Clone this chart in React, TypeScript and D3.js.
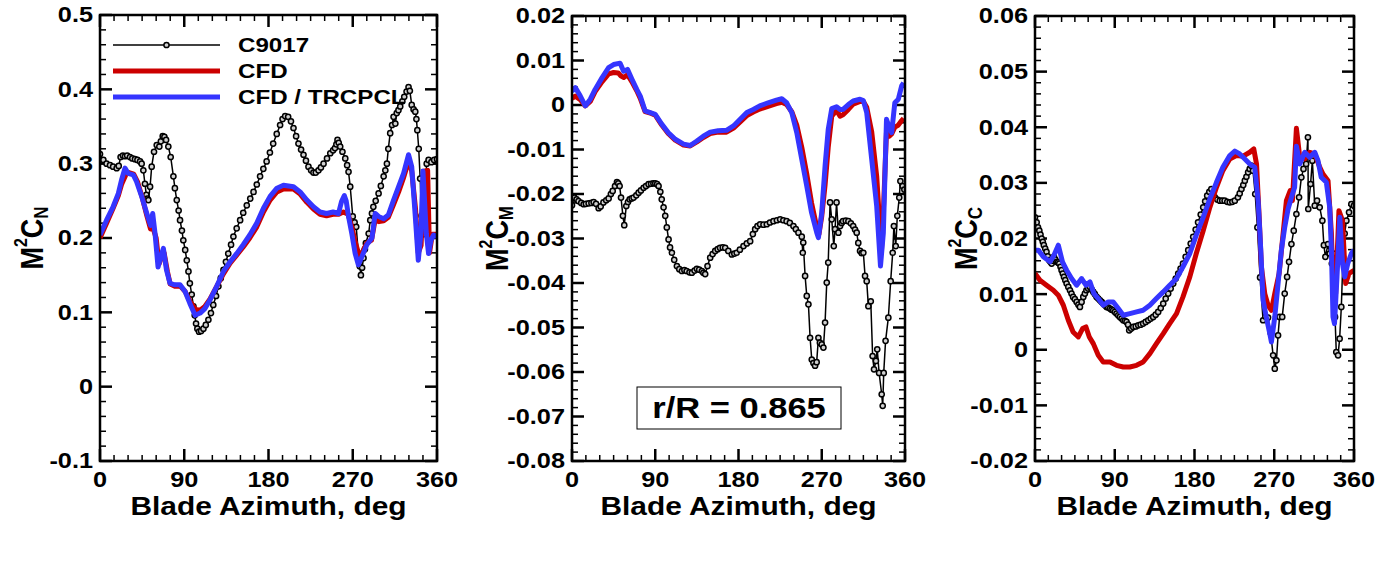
import * as d3 from "d3";

type Pt = [number, number];

// azimuth ticks shared by all three panels
const azimuthTickLabels = ["0", "90", "180", "270", "360"];
const seriesNames = ["C9017", "CFD", "CFD / TRCPCL"];
const noteLabel = "r/R = 0.865";

// ---- normal force, M^2 CN ----
const cnTickLabels = ["-0.1", "0", "0.1", "0.2", "0.3", "0.4", "0.5"];

const cnC9017: Pt[] = [
  [0, 0.313], [3.6, 0.305], [7, 0.3], [10.7, 0.298], [14, 0.296], [17.8, 0.294], [20, 0.297],
  [22, 0.309], [24.5, 0.311], [26.7, 0.31], [29, 0.311], [32, 0.309], [34.5, 0.307], [37.4, 0.306],
  [40, 0.305], [42.8, 0.303], [44.5, 0.3], [46.3, 0.291], [48, 0.273], [49.5, 0.258], [50.6, 0.253],
  [51.7, 0.251], [53.5, 0.269], [55.2, 0.296], [57.7, 0.316], [60.6, 0.325], [63.4, 0.323],
  [65, 0.33], [67, 0.337], [68.8, 0.336], [70.6, 0.332], [73, 0.323], [75.5, 0.309], [78.4, 0.283],
  [80, 0.267], [82, 0.251], [84, 0.237], [85.5, 0.224], [87.5, 0.21], [89, 0.197], [91, 0.184],
  [92.7, 0.17], [94.5, 0.155], [96, 0.139], [98, 0.124], [99.8, 0.108], [101.2, 0.096],
  [102.6, 0.085], [104, 0.078], [105.8, 0.074], [108, 0.075], [110.5, 0.078], [113, 0.083],
  [115.8, 0.09], [118.5, 0.099], [121, 0.11], [124, 0.122], [126.5, 0.135], [129, 0.146],
  [131.9, 0.157], [134.5, 0.168], [137, 0.179], [140, 0.191], [142.5, 0.202], [146, 0.213],
  [149.7, 0.224], [153, 0.234], [156.8, 0.244], [160.5, 0.253], [164, 0.262], [167.5, 0.272],
  [171, 0.283], [174.5, 0.293], [178, 0.303], [181.5, 0.315], [185, 0.327], [188.8, 0.34],
  [192.4, 0.352], [195, 0.36], [197.8, 0.364], [201, 0.363], [204, 0.357], [206.7, 0.348],
  [209.5, 0.337], [212, 0.327], [214.8, 0.319], [217.4, 0.312], [220, 0.304], [222.7, 0.296],
  [225.5, 0.291], [228, 0.288], [230.5, 0.288], [233.4, 0.291], [236, 0.295], [238.8, 0.3],
  [242.5, 0.307], [246, 0.314], [249, 0.318], [251, 0.321], [252.5, 0.326], [253.7, 0.332],
  [255, 0.328], [256.6, 0.323], [259, 0.316], [262, 0.307], [264, 0.298], [265.5, 0.289],
  [267.3, 0.269], [270, 0.229], [272, 0.221], [273.7, 0.215], [276, 0.179], [277.5, 0.162],
  [278.7, 0.15], [280, 0.16], [281.5, 0.173], [283, 0.185], [284, 0.193], [287, 0.206],
  [288.7, 0.224], [290.5, 0.233], [292, 0.242], [294.5, 0.25], [297.6, 0.26], [300, 0.27],
  [303, 0.283], [304.8, 0.291], [306.5, 0.3], [308, 0.32], [310, 0.341], [312, 0.352],
  [313.6, 0.363], [315.5, 0.354], [317, 0.368], [318.8, 0.372], [320.7, 0.377], [323, 0.384],
  [325, 0.39], [327.5, 0.397], [329.6, 0.403], [331, 0.398], [333, 0.379], [335, 0.373],
  [336.8, 0.37], [338, 0.36], [339, 0.345], [340.5, 0.32], [342, 0.28], [343.5, 0.23],
  [345, 0.205], [346.5, 0.245], [347.5, 0.275], [349, 0.3], [351, 0.305], [354, 0.302],
  [357, 0.305], [360, 0.306],
];

const cnCfd: Pt[] = [
  [0, 0.2], [7, 0.22], [14, 0.24], [19.6, 0.257], [23, 0.272], [28, 0.286], [31, 0.288],
  [36, 0.286], [40, 0.276], [45, 0.255], [50, 0.23], [54, 0.212], [57, 0.212], [60, 0.2],
  [63, 0.165], [66, 0.175], [68.5, 0.18], [72, 0.155], [75, 0.138], [80, 0.135], [86, 0.135],
  [91, 0.128], [96, 0.115], [102, 0.104], [107, 0.103], [112, 0.108], [117.6, 0.118],
  [124.7, 0.135], [132, 0.152], [139, 0.166], [146, 0.177], [153, 0.188], [160, 0.2],
  [167.5, 0.215], [174.6, 0.235], [181.7, 0.251], [189, 0.262], [196, 0.266], [206.7, 0.266],
  [213.8, 0.259], [221, 0.248], [228, 0.239], [235, 0.232], [242, 0.23], [249, 0.232],
  [255, 0.232], [260, 0.235], [265, 0.232], [269, 0.215], [272.6, 0.195], [276.5, 0.178],
  [280, 0.18], [285, 0.193], [290, 0.197], [294, 0.225], [298, 0.222], [303, 0.223],
  [308, 0.228], [313.6, 0.245], [319, 0.262], [324, 0.28], [330, 0.305], [333, 0.29],
  [337, 0.24], [340, 0.18], [343, 0.19], [346, 0.29], [350, 0.291], [352, 0.18], [355, 0.205],
  [360, 0.205],
];

const cnTrcpcl: Pt[] = [
  [0, 0.204], [7, 0.224], [14, 0.242], [19.6, 0.26], [23, 0.278], [26.7, 0.294], [30, 0.287],
  [35.6, 0.285], [39, 0.276], [44.5, 0.256], [50, 0.233], [54, 0.217], [56.3, 0.233],
  [58.8, 0.206], [62, 0.161], [65, 0.175], [67.7, 0.186], [71, 0.157], [74.8, 0.139],
  [80, 0.137], [85.5, 0.137], [90.9, 0.128], [96, 0.112], [101.6, 0.096], [107, 0.099],
  [112, 0.105], [117.6, 0.117], [124.7, 0.135], [131.9, 0.155], [139, 0.168], [146, 0.179],
  [153, 0.191], [160, 0.204], [167.5, 0.22], [174.6, 0.24], [181.7, 0.256], [189, 0.267],
  [196, 0.271], [206.7, 0.269], [213.8, 0.262], [221, 0.251], [228, 0.242], [235, 0.235],
  [242, 0.233], [249, 0.235], [254.8, 0.233], [258, 0.249], [261, 0.257], [263, 0.25],
  [265.5, 0.229], [269, 0.206], [272.6, 0.179], [276, 0.164], [279.8, 0.175], [285, 0.191],
  [290.5, 0.2], [294, 0.233], [297.6, 0.229], [303, 0.226], [308, 0.231], [313.6, 0.251],
  [319, 0.269], [324.3, 0.287], [329.6, 0.312], [333, 0.296], [336.8, 0.229], [340, 0.17],
  [342.8, 0.206], [345, 0.29], [348.6, 0.206], [351, 0.179], [353.5, 0.197], [356.4, 0.204],
  [360, 0.202],
];

// ---- pitching moment, M^2 CM ----
const cmTickLabels = [
  "-0.08", "-0.07", "-0.06", "-0.05", "-0.04", "-0.03", "-0.02", "-0.01", "0", "0.01", "0.02",
];

const cmC9017: Pt[] = [
  [0, -0.0225], [2.5, -0.0208], [5, -0.0212], [7, -0.0216], [10, -0.022], [12.6, -0.0223],
  [15, -0.0222], [18, -0.0221], [21, -0.022], [23.4, -0.0218], [26, -0.0222], [28.8, -0.0232],
  [31, -0.0228], [34, -0.0219], [37, -0.0214], [39.6, -0.021], [42, -0.02], [44, -0.0193],
  [46.5, -0.0182], [48.6, -0.0173], [50, -0.0176], [51.5, -0.0182], [53, -0.0208], [55, -0.0249],
  [56.5, -0.027], [58.7, -0.0227], [60.5, -0.0218], [62.3, -0.0212], [64.5, -0.021],
  [66.6, -0.0208], [69.5, -0.0203], [72, -0.0197], [74.5, -0.0192], [77.4, -0.0186],
  [80, -0.0182], [82.8, -0.0178], [85.5, -0.0177], [88, -0.0176], [90, -0.0176], [92, -0.0178],
  [93.6, -0.0182], [95.5, -0.0195], [97, -0.0212], [99, -0.023], [100.8, -0.0249],
  [102.5, -0.0275], [104.4, -0.0302], [106, -0.032], [108, -0.0332], [110.5, -0.0348],
  [113.4, -0.0362], [116, -0.0369], [118.8, -0.0373], [121.5, -0.0371], [124, -0.0373],
  [127, -0.0376], [129.6, -0.0377], [132.5, -0.0372], [135, -0.0368], [137.5, -0.037],
  [140.4, -0.0373], [142, -0.0377], [144, -0.038], [146.5, -0.0362], [149.4, -0.0343],
  [152, -0.0335], [154.8, -0.0328], [157.5, -0.0324], [160, -0.0321], [163, -0.032],
  [165.6, -0.0321], [169, -0.0328], [172.8, -0.0336], [175.5, -0.0334], [178, -0.0332],
  [181.5, -0.0325], [185.4, -0.0317], [189, -0.0311], [192.6, -0.0306], [195.5, -0.029],
  [198, -0.0279], [200.5, -0.0272], [203.4, -0.0268], [207, -0.0269], [210.6, -0.0268],
  [214, -0.0264], [217.8, -0.0261], [221.5, -0.0259], [225, -0.0257], [228.5, -0.0259],
  [232, -0.0261], [235.5, -0.0265], [239.4, -0.0272], [242, -0.0279], [244.8, -0.0287],
  [248.4, -0.0296], [249.5, -0.0332], [250, -0.0309], [252, -0.0384], [253.8, -0.0429],
  [255.6, -0.0448], [257.4, -0.0523], [259.2, -0.0572], [261, -0.058], [262.8, -0.0586],
  [264.5, -0.0578], [266.4, -0.0523], [268, -0.0534], [270, -0.0538], [271.8, -0.0545],
  [273.6, -0.0489], [275.4, -0.0399], [277, -0.0354], [279, -0.0219], [280.8, -0.0257],
  [283, -0.0317], [284.4, -0.0279], [286, -0.0219], [288, -0.0287], [289.8, -0.0272],
  [291.5, -0.0265], [293, -0.0261], [296, -0.026], [298.8, -0.0261], [301.5, -0.0266],
  [304, -0.0272], [306, -0.028], [307.8, -0.0287], [309.5, -0.031], [311.4, -0.0328],
  [313.2, -0.0333], [315, -0.0332], [316.8, -0.0384], [318.6, -0.0396], [320.4, -0.0452],
  [323, -0.0441], [325, -0.0564], [326.5, -0.0594], [328.6, -0.0575], [330, -0.0549],
  [332, -0.0602], [334.8, -0.065], [335.9, -0.0676], [337, -0.0602], [339, -0.053],
  [342, -0.0478], [344.5, -0.0396], [346.7, -0.0332], [348, -0.0272], [350, -0.0317],
  [351.7, -0.0249], [353.8, -0.0208], [355, -0.0171], [357.5, -0.0182], [359.3, -0.019],
];

const cmCfd: Pt[] = [
  [0, 0.0015], [3.6, 0.002], [9, 0.0012], [14.4, -0.0002], [19.8, 0.0008], [25, 0.003],
  [32.4, 0.0052], [39.6, 0.007], [45, 0.0073], [50, 0.0072], [53, 0.0065], [56, 0.0062],
  [60, 0.0068], [64.8, 0.0052], [70, 0.0032], [73.8, 0.0015], [79, -0.0015], [84.6, -0.0018],
  [90, -0.0023], [97, -0.0045], [104, -0.0064], [111.6, -0.0079], [120.6, -0.009],
  [127.8, -0.0092], [135, -0.0083], [142, -0.0073], [149.4, -0.0064], [158, -0.0061],
  [167, -0.0061], [174.6, -0.0052], [181.8, -0.0038], [189, -0.0024], [196, -0.0016],
  [203, -0.0009], [212, -0.0003], [221, 0.0003], [226.8, 0.0006], [232, 0.0001],
  [237.6, -0.0015], [243, -0.0045], [248.4, -0.0095], [253.8, -0.0155], [259, -0.022],
  [264.6, -0.0275], [267, -0.029], [270, -0.025], [273.6, -0.018], [277, -0.0095],
  [280.8, -0.0025], [286, -0.0012], [289.8, -0.0025], [293, -0.0022], [298.8, -0.001],
  [304, 0.0002], [311.4, 0.0008], [315, 0.0008], [318.6, -0.0005], [324, -0.006],
  [329.4, -0.016], [334.5, -0.033], [337, -0.022], [340, -0.006], [343, -0.007],
  [345.6, -0.0065], [349, -0.005], [352.8, -0.0045], [356.4, -0.0035], [358.5, -0.003],
];

const cmTrcpcl: Pt[] = [
  [0, 0.0031], [3.6, 0.0039], [9, 0.002], [14.4, -0.0002], [19.8, 0.0013], [25, 0.0035],
  [32.4, 0.0061], [39.6, 0.0084], [45, 0.0091], [52, 0.0094], [55.8, 0.0076], [60, 0.008],
  [64.8, 0.0058], [70, 0.0035], [73.8, 0.002], [79, -0.0013], [84.6, -0.0017], [90, -0.0021],
  [97, -0.0043], [104, -0.0062], [111.6, -0.0077], [120.6, -0.0088], [127.8, -0.0091],
  [135, -0.0081], [142, -0.007], [149.4, -0.0061], [158, -0.0058], [167, -0.0057],
  [174.6, -0.0047], [181.8, -0.0032], [189, -0.0017], [196, -0.001], [203, -0.0002],
  [212, 0.0005], [221, 0.0011], [226.8, 0.0014], [232, 0.0005], [237.6, -0.0017],
  [243, -0.0062], [248.4, -0.0122], [253.8, -0.0182], [259, -0.0242], [264.6, -0.0287],
  [266.4, -0.0298], [270, -0.0242], [273.6, -0.0137], [277, -0.0055], [280.8, -0.0008],
  [286, -0.0004], [289.8, -0.001], [293, -0.001], [298.8, 0.0001], [304, 0.0009],
  [311.4, 0.0013], [315, 0.001], [318.6, -0.0017], [324, -0.0122], [329.4, -0.0227],
  [333.5, -0.0362], [336.6, -0.0287], [340, -0.0032], [343, -0.0051], [345.6, -0.0062],
  [349, 0.0005], [352.8, 0.0013], [356.4, 0.0043], [358.5, 0.005],
];

// ---- chord force, M^2 CC ----
const ccTickLabels = ["-0.02", "-0.01", "0", "0.01", "0.02", "0.03", "0.04", "0.05", "0.06"];

const ccC9017: Pt[] = [
  [0, 0.0238], [1.9, 0.0229], [3.4, 0.022], [4.9, 0.0214], [6.2, 0.0207], [7.5, 0.02],
  [8.8, 0.0194], [10, 0.0188], [11.5, 0.0182], [13, 0.0176], [14.5, 0.0168], [16, 0.0161],
  [17.4, 0.0158], [18.8, 0.0155], [20, 0.016], [21.4, 0.0167], [23, 0.0162], [24.4, 0.0158],
  [26, 0.0157], [27.4, 0.0155], [28.8, 0.0149], [30, 0.0143], [31.4, 0.0137], [32.7, 0.0131],
  [34.2, 0.0125], [35.7, 0.0119], [37.6, 0.0113], [39.5, 0.0107], [41.2, 0.0101], [43, 0.0095],
  [45, 0.0091], [47, 0.0086], [49, 0.0081], [50.7, 0.0077], [52.6, 0.0086], [54.5, 0.0095],
  [56.3, 0.0101], [58, 0.0107], [60, 0.011], [62, 0.0113], [64, 0.0108], [65.8, 0.0104],
  [67.6, 0.01], [69.5, 0.0095], [71.4, 0.0092], [73.3, 0.0089], [75.2, 0.0086], [77, 0.0083],
  [79, 0.008], [80.8, 0.0077], [82.7, 0.0076], [84.6, 0.0074], [86.4, 0.0072], [88.3, 0.0071],
  [90.2, 0.0068], [92, 0.0065], [93.9, 0.0062], [95.8, 0.0059], [97.7, 0.0056], [99.6, 0.0053],
  [101.5, 0.0052], [103.3, 0.005], [105, 0.0045], [106.3, 0.0035], [108.5, 0.0038],
  [110.9, 0.0041], [113.7, 0.0042], [116.5, 0.0044], [119.2, 0.0045], [122, 0.0047],
  [124.9, 0.005], [127.8, 0.0053], [130.6, 0.0056], [133.4, 0.0059], [136.2, 0.0063],
  [139, 0.0068], [141.9, 0.0075], [144.7, 0.0083], [147.5, 0.0092], [150.3, 0.0101],
  [153.1, 0.011], [156, 0.0119], [158.8, 0.0128], [161.6, 0.0137], [164.3, 0.0146],
  [167, 0.0155], [170, 0.0167], [172.9, 0.0179], [175.7, 0.0191], [178.5, 0.0203],
  [181.3, 0.0216], [184, 0.0229], [187, 0.0243], [189.8, 0.0256], [192, 0.0267],
  [194.3, 0.0277], [196.7, 0.0284], [199, 0.0289], [201, 0.0281], [203, 0.0274],
  [205.8, 0.027], [208.6, 0.0268], [211.3, 0.0268], [214, 0.0268], [217, 0.0266],
  [219.8, 0.0265], [222.7, 0.0266], [225.5, 0.0268], [229, 0.0274], [231, 0.0281],
  [233, 0.0289], [235, 0.0296], [236.8, 0.0304], [238.6, 0.0311], [240.5, 0.0319],
  [242.3, 0.0325], [244, 0.0331], [246, 0.0322], [248.5, 0.028], [251, 0.022], [254, 0.013],
  [257.4, 0.0053], [260, 0.006], [263, 0.0058], [266, 0.003], [268.7, -0.001], [270.6, -0.0034],
  [272.5, -0.0019], [274.3, 0.0026], [276, 0.0059], [279, 0.0059], [281.8, 0.0101],
  [284.5, 0.0131], [286.7, 0.0158], [289.4, 0.019], [292, 0.0214], [295, 0.0244], [298, 0.0274],
  [300.6, 0.031], [303, 0.0325], [306, 0.0334], [308, 0.0382], [308.4, 0.0253], [311, 0.0298],
  [313, 0.034], [315.7, 0.0259], [318.3, 0.0268], [321.3, 0.0256], [324.3, 0.0232],
  [326, 0.0188], [327.7, 0.0167], [330.7, 0.019], [332.6, 0.0173], [335, 0.0155],
  [337, 0.0173], [338.6, 0.0059], [340, -0.0004], [342, -0.001], [343.8, 0.002],
  [345.7, 0.0077], [347.6, 0.0167], [349.5, 0.0209], [351.4, 0.0232], [354.4, 0.0247],
  [357, 0.0262], [360, 0.0259],
];

const ccCfd: Pt[] = [
  [0, 0.0137], [5.6, 0.0125], [13, 0.0116], [20.7, 0.0107], [26.3, 0.0098], [32, 0.008],
  [37.6, 0.0053], [43, 0.0032], [48.9, 0.0023], [53.7, 0.0038], [57.5, 0.0041], [61.3, 0.0023],
  [65.8, 0.0011], [71.4, -0.001], [77, -0.0022], [84.6, -0.0022], [92, -0.0028],
  [99.6, -0.0031], [107, -0.0031], [114.6, -0.0028], [122, -0.0022], [129.6, -0.0007],
  [137, 0.0011], [144.7, 0.0029], [152, 0.0047], [159.7, 0.0065], [167, 0.0095],
  [174.7, 0.0131], [182, 0.0173], [189.8, 0.0214], [197.3, 0.0256], [204.8, 0.0292],
  [212, 0.0322], [219.8, 0.0343], [227.4, 0.0349], [234.9, 0.0348], [242.4, 0.0355],
  [246.9, 0.0361], [250, 0.0334], [253, 0.0238], [255.5, 0.0149], [259.3, 0.0101], [263, 0.008],
  [266.8, 0.0071], [270.6, 0.0101], [275.5, 0.0137], [280, 0.0209], [283.7, 0.0268],
  [288, 0.0286], [290.5, 0.0268], [295, 0.0398], [298.8, 0.0346], [304.4, 0.0343],
  [310, 0.0355], [315.7, 0.0352], [321.4, 0.0328], [325, 0.0316], [330.7, 0.0304],
  [334.5, 0.0209], [337, 0.0089], [339.3, 0.0101], [343, 0.025], [347, 0.0232],
  [350.6, 0.0119], [354.4, 0.0137], [360, 0.0143],
];

const ccTrcpcl: Pt[] = [
  [0, 0.0179], [3.8, 0.0179], [9.4, 0.0167], [17, 0.0158], [21.4, 0.017], [26.3, 0.0188],
  [31, 0.0158], [35.7, 0.0143], [41.3, 0.0128], [47, 0.0116], [52.6, 0.0128], [57.5, 0.0116],
  [62, 0.0122], [66.5, 0.0101], [71.4, 0.0092], [77, 0.008], [82.7, 0.0086], [88.3, 0.0086],
  [94, 0.0074], [99.6, 0.0062], [107, 0.0065], [114.6, 0.0068], [122, 0.0071], [129.6, 0.008],
  [137, 0.0092], [144.7, 0.0104], [152, 0.0116], [159.7, 0.0128], [167, 0.0149],
  [174.7, 0.0173], [182, 0.0206], [189.8, 0.0238], [197.3, 0.0271], [204.8, 0.0301],
  [212, 0.0328], [219.8, 0.0349], [225.5, 0.0357], [231, 0.0352], [236.8, 0.0343],
  [242.4, 0.0334], [248, 0.0328], [251.8, 0.0268], [254.8, 0.0179], [257.4, 0.0089],
  [261, 0.0059], [265, 0.0029], [266.8, 0.0014], [270.6, 0.0059], [274.3, 0.0119],
  [278, 0.0179], [281.8, 0.022], [285.6, 0.0253], [289.4, 0.0274], [293, 0.0292],
  [295, 0.0366], [298.8, 0.0334], [304.4, 0.0355], [310, 0.0346], [315.7, 0.0355],
  [319.4, 0.034], [323, 0.031], [328.8, 0.0301], [332.6, 0.0256], [334.5, 0.0179],
  [336.3, 0.0059], [338, 0.0047], [340.8, 0.0131], [344, 0.0238], [347, 0.0155],
  [349.5, 0.0131], [353, 0.0155], [357, 0.0173], [360, 0.0179],
];

const FONT = "'Liberation Sans', Arial, Helvetica, sans-serif";
const STRETCH = 1.15; // the source figure is stretched sideways a bit
const RED = "#cc0000";
const BLUE = "#3535ff";

function Txt(props: {
  x: number;
  y: number;
  size: number;
  anchor?: string;
  rotate?: boolean;
  stretch?: number;
  children: any;
}) {
  const { x, y, size, anchor = "middle", rotate = false, stretch = STRETCH, children } = props;
  const tf = `translate(${x},${y}) scale(${stretch},1)` + (rotate ? " rotate(-90)" : "");
  return (
    <text
      transform={tf}
      fontFamily={FONT}
      fontWeight="bold"
      fontSize={size}
      textAnchor={anchor}
      dominantBaseline="central"
      fill="#000"
    >
      {children}
    </text>
  );
}

interface PanelProps {
  id: string;
  left: number;
  right: number;
  top: number;
  bottom: number;
  yLabels: string[];
  yMinorStep: number;
  sub: string;
  titleX: number;
  exp: Pt[];
  cfd: Pt[];
  trc: Pt[];
  legend?: boolean;
  note?: boolean;
}

function Marker({ cx, cy }: { cx: number; cy: number }) {
  return <circle cx={cx} cy={cy} r={2.6} fill="#d0d0d0" stroke="#000" strokeWidth={1.5} />;
}

function Panel(p: PanelProps) {
  const yVals = p.yLabels.map(Number);
  const yMin = d3.min(yVals)!;
  const yMax = d3.max(yVals)!;
  const x = d3.scaleLinear().domain([0, 360]).range([p.left, p.right]);
  const y = d3.scaleLinear().domain([yMin, yMax]).range([p.bottom, p.top]);
  const line = d3
    .line<Pt>()
    .x((d) => x(d[0]))
    .y((d) => y(d[1]));

  const nMinor = Math.round((yMax - yMin) / p.yMinorStep);
  const yMinor = d3.range(nMinor + 1).map((i) => yMin + i * p.yMinorStep);
  const perMajor = Math.round((yVals[1] - yVals[0]) / p.yMinorStep);
  const xMinor = d3.range(0, 361, 15);

  const MAJ = 12;
  const MIN = 6;
  const midX = (p.left + p.right) / 2;

  return (
    <g>
      <defs>
        <clipPath id={`clip-${p.id}`}>
          <rect x={p.left} y={p.top} width={p.right - p.left} height={p.bottom - p.top} />
        </clipPath>
      </defs>

      {/* ticks, inward on all four sides */}
      {xMinor.map((d) => {
        const len = d % 90 === 0 ? MAJ : MIN;
        const sw = d % 90 === 0 ? 2.5 : 1.5;
        return (
          <g key={`xt${d}`} stroke="#000" strokeWidth={sw}>
            <line x1={x(d)} x2={x(d)} y1={p.bottom} y2={p.bottom - len} />
            <line x1={x(d)} x2={x(d)} y1={p.top} y2={p.top + len} />
          </g>
        );
      })}
      {yMinor.map((v, i) => {
        const major = i % perMajor === 0;
        const len = major ? MAJ : MIN;
        return (
          <g key={`yt${i}`} stroke="#000" strokeWidth={major ? 2.5 : 1.5}>
            <line x1={p.left} x2={p.left + len} y1={y(v)} y2={y(v)} />
            <line x1={p.right} x2={p.right - len} y1={y(v)} y2={y(v)} />
          </g>
        );
      })}

      <g clipPath={`url(#clip-${p.id})`}>
        <path d={line(p.exp) ?? ""} fill="none" stroke="#000" strokeWidth={1.5} />
        {p.exp.map((d, i) => (
          <Marker key={i} cx={x(d[0])} cy={y(d[1])} />
        ))}
        <path d={line(p.cfd) ?? ""} fill="none" stroke={RED} strokeWidth={5} strokeLinejoin="round" />
        <path d={line(p.trc) ?? ""} fill="none" stroke={BLUE} strokeWidth={5} strokeLinejoin="round" />
      </g>

      <rect
        x={p.left}
        y={p.top}
        width={p.right - p.left}
        height={p.bottom - p.top}
        fill="none"
        stroke="#000"
        strokeWidth={2.5}
      />

      {/* tick labels */}
      {azimuthTickLabels.map((t) => (
        <Txt key={`xl${t}`} x={x(+t)} y={p.bottom + 19} size={22}>
          {t}
        </Txt>
      ))}
      {p.yLabels.map((t) => (
        <Txt key={`yl${t}`} x={p.left - 7} y={y(+t)} size={22} anchor="end">
          {t}
        </Txt>
      ))}

      {/* axis titles */}
      <Txt x={midX} y={p.bottom + 45} size={26}>
        Blade Azimuth, deg
      </Txt>
      <Txt x={p.titleX} y={(p.top + p.bottom) / 2} size={27} rotate>
        M
        <tspan fontSize={16} dy={-10}>
          2
        </tspan>
        <tspan fontSize={27} dy={10}>
          C
        </tspan>
        <tspan fontSize={17} dy={7}>
          {p.sub}
        </tspan>
      </Txt>

      {p.legend &&
        seriesNames.map((name, i) => {
          const ly = p.top + 30 + i * 26;
          const x0 = p.left + 13;
          const x1 = p.left + 120;
          return (
            <g key={name}>
              {i === 0 ? (
                <g>
                  <line x1={x0} x2={x1} y1={ly} y2={ly} stroke="#000" strokeWidth={1.5} />
                  <Marker cx={(x0 + x1) / 2} cy={ly} />
                </g>
              ) : (
                <line x1={x0} x2={x1} y1={ly} y2={ly} stroke={i === 1 ? RED : BLUE} strokeWidth={5} />
              )}
              <Txt x={p.left + 138} y={ly} size={21} anchor="start">
                {name}
              </Txt>
            </g>
          );
        })}

      {p.note && (
        <g>
          <rect x={p.left + 65} y={387} width={204} height={42} fill="#fff" stroke="#000" strokeWidth={1} />
          <Txt x={p.left + 65 + 102} y={408} size={30}>
            {noteLabel}
          </Txt>
        </g>
      )}
    </g>
  );
}

export default function App() {
  return (
    <svg
      width={1393}
      height={574}
      style={{ position: "absolute", left: 0, top: 0, background: "#fff" }}
    >
      <rect width={1393} height={574} fill="#fff" />
      <Panel
        id="cn"
        left={100}
        right={437}
        top={15}
        bottom={461}
        yLabels={cnTickLabels}
        yMinorStep={0.02}
        sub="N"
        titleX={32}
        exp={cnC9017}
        cfd={cnCfd}
        trc={cnTrcpcl}
        legend
      />
      <Panel
        id="cm"
        left={572}
        right={905}
        top={16}
        bottom={461}
        yLabels={cmTickLabels}
        yMinorStep={0.002}
        sub="M"
        titleX={497}
        exp={cmC9017}
        cfd={cmCfd}
        trc={cmTrcpcl}
        note
      />
      <Panel
        id="cc"
        left={1035}
        right={1354}
        top={16}
        bottom={461}
        yLabels={ccTickLabels}
        yMinorStep={0.002}
        sub="C"
        titleX={966}
        exp={ccC9017}
        cfd={ccCfd}
        trc={ccTrcpcl}
      />
    </svg>
  );
}
